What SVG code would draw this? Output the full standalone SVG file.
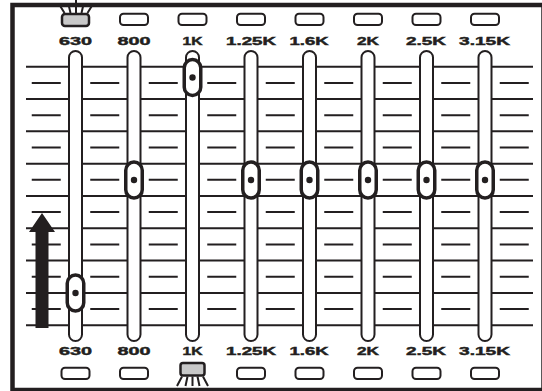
<svg xmlns="http://www.w3.org/2000/svg" width="542" height="391" viewBox="0 0 542 391">
<style>
.ln{stroke:#231f20;stroke-width:2;fill:none}
.slot{fill:#fff;stroke:#231f20;stroke-width:2}
.knob{fill:#fff;stroke:#231f20;stroke-width:3.5}
.dot{fill:#231f20}
.led{fill:#fff;stroke:#231f20;stroke-width:2}
.lit{fill:#c8c8c8;stroke:#231f20;stroke-width:2.5}
.ray{stroke:#231f20;stroke-width:2;fill:none}
.lbl{font-family:"Liberation Sans",Arial,sans-serif;font-weight:700;font-size:11.5px;fill:#231f20;stroke:#231f20;stroke-width:0.45;text-anchor:middle}
</style>
<rect width="542" height="391" fill="#fff"/>
<g id="scale">
<path class="ln" d="M26 66.7H533M26 99H533M26 131.3H533M26 163.7H533M26 196H533M26 228.3H533M26 260.6H533M26 292.9H533M26 325.3H533"/>
<path class="ln" d="M31.75 82.9h29M90.25 82.9h29M148.75 82.9h29M207.25 82.9h29M265.75 82.9h29M324.25 82.9h29M382.75 82.9h29M441.25 82.9h29M499.75 82.9h29
M31.75 115.2h29M90.25 115.2h29M148.75 115.2h29M207.25 115.2h29M265.75 115.2h29M324.25 115.2h29M382.75 115.2h29M441.25 115.2h29M499.75 115.2h29
M31.75 147.5h29M90.25 147.5h29M148.75 147.5h29M207.25 147.5h29M265.75 147.5h29M324.25 147.5h29M382.75 147.5h29M441.25 147.5h29M499.75 147.5h29
M31.75 179.8h29M90.25 179.8h29M148.75 179.8h29M207.25 179.8h29M265.75 179.8h29M324.25 179.8h29M382.75 179.8h29M441.25 179.8h29M499.75 179.8h29
M31.75 212.1h29M90.25 212.1h29M148.75 212.1h29M207.25 212.1h29M265.75 212.1h29M324.25 212.1h29M382.75 212.1h29M441.25 212.1h29M499.75 212.1h29
M31.75 244.5h29M90.25 244.5h29M148.75 244.5h29M207.25 244.5h29M265.75 244.5h29M324.25 244.5h29M382.75 244.5h29M441.25 244.5h29M499.75 244.5h29
M31.75 276.8h29M90.25 276.8h29M148.75 276.8h29M207.25 276.8h29M265.75 276.8h29M324.25 276.8h29M382.75 276.8h29M441.25 276.8h29M499.75 276.8h29
M31.75 309.1h29M90.25 309.1h29M148.75 309.1h29M207.25 309.1h29M265.75 309.1h29M324.25 309.1h29M382.75 309.1h29M441.25 309.1h29M499.75 309.1h29"/>
</g>
<g id="connectors"></g>
<g id="ch-630">
<rect class="slot" x="69" y="51" width="13" height="290" rx="6.5"/>
<rect class="knob" x="67.25" y="275" width="16.5" height="36" rx="8.25"/>
<circle class="dot" cx="75.5" cy="293" r="3.2"/>
<text class="lbl" x="75.5" y="45" textLength="33" lengthAdjust="spacingAndGlyphs">630</text>
<text class="lbl" x="75.5" y="355" textLength="33" lengthAdjust="spacingAndGlyphs">630</text>
<path class="ray" d="M64.5 13L60.5 6.5M70.5 13L69 6.5M76 13V0M81.5 13L83 6.5M87.5 13L91.5 6.5"/>
<rect class="lit" x="62" y="14" width="27" height="12" rx="3"/>
<rect class="led" x="61.5" y="367.7" width="28" height="11.3" rx="3.5"/>
</g>
<g id="ch-800">
<rect class="slot" x="127.5" y="51" width="13" height="290" rx="6.5"/>
<rect class="knob" x="125.75" y="162" width="16.5" height="36" rx="8.25"/>
<circle class="dot" cx="134" cy="180" r="3.2"/>
<text class="lbl" x="134" y="45" textLength="33" lengthAdjust="spacingAndGlyphs">800</text>
<text class="lbl" x="134" y="355" textLength="33" lengthAdjust="spacingAndGlyphs">800</text>
<rect class="led" x="120" y="13.7" width="28" height="11.3" rx="3.5"/>
<rect class="led" x="120" y="367.7" width="28" height="11.3" rx="3.5"/>
</g>
<g id="ch-1k">
<rect class="slot" x="186" y="51" width="13" height="290" rx="6.5"/>
<rect class="knob" x="184.25" y="59.5" width="16.5" height="36" rx="8.25"/>
<circle class="dot" cx="192.5" cy="77.5" r="3.2"/>
<text class="lbl" x="192.5" y="45" textLength="20" lengthAdjust="spacingAndGlyphs">1K</text>
<text class="lbl" x="192.5" y="355" textLength="20" lengthAdjust="spacingAndGlyphs">1K</text>
<rect class="led" x="178.5" y="13.7" width="28" height="11.3" rx="3.5"/>
<rect class="lit" x="180.5" y="363" width="24" height="12.5" rx="2.5"/>
<path class="ray" d="M182 376.5L177 386M187.5 376.5L185.5 386M192.5 376.5V386M197.5 376.5L199.5 386M203 376.5L208 386"/>
</g>
<g id="ch-1-25k">
<rect class="slot" x="244.5" y="51" width="13" height="290" rx="6.5"/>
<rect class="knob" x="242.75" y="162" width="16.5" height="36" rx="8.25"/>
<circle class="dot" cx="251" cy="180" r="3.2"/>
<text class="lbl" x="251" y="45" textLength="50" lengthAdjust="spacingAndGlyphs">1.25K</text>
<text class="lbl" x="251" y="355" textLength="50" lengthAdjust="spacingAndGlyphs">1.25K</text>
<rect class="led" x="237" y="13.7" width="28" height="11.3" rx="3.5"/>
<rect class="led" x="237" y="367.7" width="28" height="11.3" rx="3.5"/>
</g>
<g id="ch-1-6k">
<rect class="slot" x="303" y="51" width="13" height="290" rx="6.5"/>
<rect class="knob" x="301.25" y="162" width="16.5" height="36" rx="8.25"/>
<circle class="dot" cx="309.5" cy="180" r="3.2"/>
<text class="lbl" x="309" y="45" textLength="39" lengthAdjust="spacingAndGlyphs">1.6K</text>
<text class="lbl" x="309" y="355" textLength="39" lengthAdjust="spacingAndGlyphs">1.6K</text>
<rect class="led" x="295.5" y="13.7" width="28" height="11.3" rx="3.5"/>
<rect class="led" x="295.5" y="367.7" width="28" height="11.3" rx="3.5"/>
</g>
<g id="ch-2k">
<rect class="slot" x="361.5" y="51" width="13" height="290" rx="6.5"/>
<rect class="knob" x="359.75" y="162" width="16.5" height="36" rx="8.25"/>
<circle class="dot" cx="368" cy="180" r="3.2"/>
<text class="lbl" x="368" y="45" textLength="22" lengthAdjust="spacingAndGlyphs">2K</text>
<text class="lbl" x="368" y="355" textLength="22" lengthAdjust="spacingAndGlyphs">2K</text>
<rect class="led" x="354" y="13.7" width="28" height="11.3" rx="3.5"/>
<rect class="led" x="354" y="367.7" width="28" height="11.3" rx="3.5"/>
</g>
<g id="ch-2-5k">
<rect class="slot" x="420" y="51" width="13" height="290" rx="6.5"/>
<rect class="knob" x="418.25" y="162" width="16.5" height="36" rx="8.25"/>
<circle class="dot" cx="426.5" cy="180" r="3.2"/>
<text class="lbl" x="426" y="45" textLength="40" lengthAdjust="spacingAndGlyphs">2.5K</text>
<text class="lbl" x="426" y="355" textLength="40" lengthAdjust="spacingAndGlyphs">2.5K</text>
<rect class="led" x="412.5" y="13.7" width="28" height="11.3" rx="3.5"/>
<rect class="led" x="412.5" y="367.7" width="28" height="11.3" rx="3.5"/>
</g>
<g id="ch-3-15k">
<rect class="slot" x="478.5" y="51" width="13" height="290" rx="6.5"/>
<rect class="knob" x="476.75" y="162" width="16.5" height="36" rx="8.25"/>
<circle class="dot" cx="485" cy="180" r="3.2"/>
<text class="lbl" x="484.5" y="45" textLength="51" lengthAdjust="spacingAndGlyphs">3.15K</text>
<text class="lbl" x="484.5" y="355" textLength="51" lengthAdjust="spacingAndGlyphs">3.15K</text>
<rect class="led" x="471" y="13.7" width="28" height="11.3" rx="3.5"/>
<rect class="led" x="471" y="367.7" width="28" height="11.3" rx="3.5"/>
</g>
<g id="arrow">
<polygon fill="#231f20" points="35.5,328 48.5,328 48.5,232 55,232 42,213 29,232 35.5,232"/>
</g>
<g id="frame">
<rect x="12.5" y="5" width="531" height="385" fill="none" stroke="#231f20" stroke-width="4.5"/>
</g>
</svg>
